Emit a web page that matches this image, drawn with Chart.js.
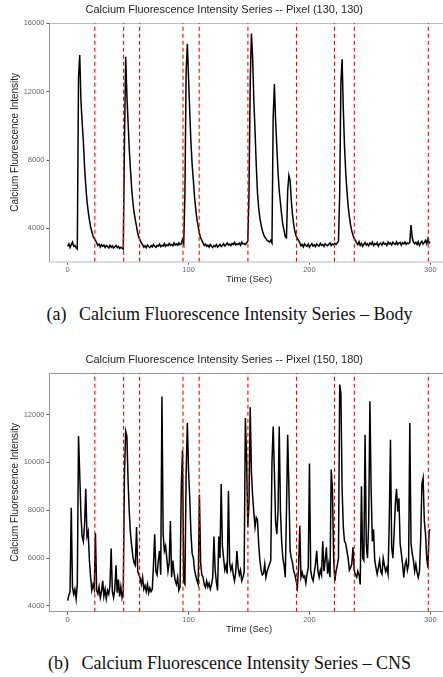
<!DOCTYPE html>
<html>
<head>
<meta charset="utf-8">
<script src="https://cdn.jsdelivr.net/npm/chart.js@4.4.1/dist/chart.umd.min.js"></script>
<style>
  html, body { margin: 0; padding: 0; background: #fff; overflow: hidden; }
  body { width: 443px; height: 677px; position: relative; }
  .panel { position: absolute; left: 0; }
  .caption {
    position: absolute; left: 0; width: 459px; text-align: center;
    font-family: "Liberation Serif", "DejaVu Serif", serif;
    font-size: 18px; line-height: 20px; color: #111; white-space: nowrap;
  }
  .caption .tag { margin-right: 8px; }
</style>
</head>
<body>
<div class="panel" style="top:0"><canvas id="body-chart" width="498" height="287"></canvas></div>
<div class="caption" style="top:304px"><span class="tag">(a) </span>Calcium Fluorescence Intensity Series – Body</div>
<div class="panel" style="top:350px"><canvas id="cns-chart" width="498" height="287"></canvas></div>
<div class="caption" style="top:653px"><span class="tag">(b) </span>Calcium Fluorescence Intensity Series – CNS</div>
<script>
/* global Chart */
Chart.defaults.font.family = '"Liberation Sans", Arial, sans-serif';
Chart.defaults.animation = false;

// one sample per second, t = 0 .. 300
const sampleStepSec = 1;
const timeTicks = [0, 100, 200, 300];
// red dashed markers (sec)
const eventTimes = [22.5, 46.3, 59.5, 95.4, 108.8, 149.1, 189.3, 220.7, 237.1, 298.3];

const bodyTicks = [4000, 8000, 12000, 16000];
const cnsTicks = [4000, 6000, 8000, 10000, 12000];

// Pixel (130, 130) - body
const bodyIntensity = [
  2950, 3100, 2880, 3050, 3200, 2950, 3000, 2870, 2800, 12800,
  14150, 11500, 10200, 9100, 7600, 6500, 5600, 5000, 4500, 4100,
  3800, 3550, 3400, 3300, 3150, 3000, 3080, 2900, 3050, 2950,
  3020, 2880, 3000, 2940, 2860, 3010, 2900, 2980, 2850, 2920,
  3000, 2870, 2950, 2820, 2900, 2840, 2780, 9000, 14050, 11800,
  10200, 8600, 7400, 6300, 5500, 4900, 4500, 4100, 3700, 3450,
  3300, 3150, 3050, 2900, 2980, 2870, 3020, 2940, 2880, 3000,
  2920, 3060, 2950, 2890, 3010, 2960, 3080, 2930, 3000, 2970,
  3110, 2950, 3040, 2990, 3120, 3000, 3060, 2980, 3150, 3020,
  3090, 3010, 3160, 3050, 3100, 3350, 3100, 6000, 13200, 14800,
  12800, 10800, 9000, 7700, 6800, 5800, 5100, 4500, 4100, 3700,
  3450, 3300, 3150, 3000, 3080, 2950, 3020, 2900, 3060, 2960,
  2880, 3000, 2930, 3050, 2900, 2980, 3070, 2940, 3000, 3100,
  2970, 3040, 3150, 3020, 3080, 2990, 3120, 3050, 3180, 3030,
  3100, 3060, 3140, 3010, 3200, 3080, 3120, 3050, 3150, 3250,
  6000, 12500, 15400, 14000, 11500, 9700, 7700, 6100, 5200, 4600,
  4200, 3900, 3650, 3500, 3400, 3300, 3250, 3200, 3300, 3150,
  10500, 12450, 10300, 8800, 7300, 6200, 5500, 4800, 4200, 3900,
  3500, 3450, 6200, 7100, 6800, 5600, 4800, 4200, 3800, 3550,
  3400, 3300, 3150, 2980, 3060, 2920, 3100, 3000, 2950, 3080,
  2900, 3020, 3110, 2960, 3040, 2930, 3090, 3000, 2970, 3120,
  3010, 3050, 2940, 3100, 3030, 2980, 3070, 3150, 3000, 3090,
  3040, 3120, 3060, 3150, 3250, 6000, 12500, 13900, 11000, 8800,
  7300, 6200, 5300, 4700, 4200, 3850, 3600, 3400, 3300, 3150,
  3050, 3220, 3000, 3120, 2950, 3080, 3180, 3020, 3100, 2980,
  3150, 3060, 3200, 3000, 3110, 3050, 3170, 2960, 3090, 3140,
  3020, 3180, 3070, 3120, 3000, 3200, 3080, 3150, 3030, 3190,
  3100, 3060, 3210, 3050, 3140, 3180, 3020, 3160, 3090, 3200,
  3060, 3150, 3110, 3180, 4200, 3450, 3200, 3100, 3180, 3050,
  3220, 3000, 3150, 3250, 3080, 3180, 3300, 3100, 3400, 3150,
  3200
];

// Pixel (150, 180) - CNS
const cnsIntensity = [
  4220, 4450, 4600, 8100, 4800, 4500, 4700, 4300, 4900, 11100,
  9500, 7800, 6900, 6700, 7400, 8900, 6900, 7100, 5900, 5200,
  4650, 4900, 4700, 7050, 4650, 4500, 4800, 4350, 4600, 5050,
  4400, 4700, 4300, 4650, 4500, 4850, 6400, 4600, 4350, 4700,
  5700, 4550, 5100, 4400, 4800, 4350, 4600, 9500, 11300, 11100,
  9200, 7900, 7000, 6500, 6050, 5800, 5700, 7300, 5450, 5300,
  5150, 4900, 5200, 4700, 4850, 4600, 4900, 4550, 4750, 4600,
  4700, 5700, 7000, 5450, 5300, 5900, 6300, 5300, 12750, 7000,
  6300, 6500, 6000, 5450, 5800, 7550, 5200, 5900, 5400, 5050,
  4900, 5200, 4650, 4800, 9000, 10500, 5000, 4900, 9500, 11650,
  9650, 8500, 7000, 6200, 6000, 5500, 5250, 5050, 4900, 8650,
  5800, 5300, 5200, 4900, 4780, 5050, 4800, 4950, 4700, 4900,
  5200, 6900, 5500, 5000, 4650, 6900, 6000, 9100, 6500, 6000,
  5500, 5700, 5350, 8800, 5800, 5500, 5700, 5300, 5050, 5400,
  6300, 5600, 5300, 5500, 5050, 5200, 5400, 11850, 10200, 7300,
  8300, 12300, 9600, 8600, 7900, 7300, 7700, 7600, 6600, 5900,
  5500, 5300, 5350, 5750, 5200, 5450, 5600, 5750, 5900, 10000,
  11500, 9600, 7500, 7000, 7950, 11500, 8000, 6700, 6000, 5700,
  5200, 8000, 11150, 8900, 6300, 6000, 5800, 5450, 5300, 5050,
  4780, 5600, 7350, 5200, 5400, 5190, 5250, 4950, 5330, 5600,
  9950, 5500, 5190, 5050, 5400, 5750, 6300, 5450, 5200, 5500,
  5300, 6700, 5450, 5900, 6450, 5350, 5750, 5200, 9700, 8900,
  6000, 5050, 5450, 5700, 6000, 13250, 12900, 8900, 7300, 6700,
  6600, 6300, 6000, 5500, 5600, 5750, 6450, 5500, 5300, 5200,
  5450, 5300, 4900, 9000, 6000, 5900, 11150, 6600, 6000, 7500,
  12550, 8900, 6700, 7200, 5900, 5600, 5330, 5600, 5900, 5450,
  5330, 6000, 5700, 5450, 5600, 5330, 7500, 10950, 6450, 6000,
  7000, 8250, 8900, 7950, 8500, 6600, 6200, 5750, 5190, 5700,
  5900, 5500, 5750, 11650, 6600, 6200, 5900, 5450, 5750, 5400,
  5190, 5450, 6800, 9100, 9350, 7550, 7000, 6000, 5600, 7150,
  7200
];

function plainLabel(value) {
  return String(value);
}

function makeChart(canvasId, titleText, values, yTicks, yMin, yMax, frameColor, baseColor, baseWidth) {
  const datasets = eventTimes.map(function(t) {
    return {
      data: [{ x: t, y: yMin }, { x: t, y: yMax }],
      borderColor: '#ff0000',
      borderWidth: 1.1,
      borderDash: [4, 3],
      pointRadius: 0,
      order: 1,
    };
  });
  datasets.push({
    data: values.map(function(v, i) { return { x: i * sampleStepSec, y: v }; }),
    borderColor: '#000',
    borderWidth: 1.5,
    pointRadius: 0,
    tension: 0,
    order: 2,
  });

  return new Chart(document.getElementById(canvasId), {
    type: 'line',
    data: { datasets: datasets },
    options: {
      responsive: false,
      animation: false,
      layout: { padding: { left: 0, right: 49.5, top: 0, bottom: 0 } },
      plugins: {
        legend: { display: false },
        tooltip: { enabled: false },
        title: {
          display: true,
          text: titleText,
          color: '#222',
          font: { size: 11, weight: 'normal' },
          padding: { top: 3.4, bottom: 6.4 },
        },
      },
      scales: {
        x: {
          type: 'linear',
          min: -15,
          max: 315,
          afterBuildTicks: function(s) { s.ticks = timeTicks.map(function(v) { return { value: v }; }); },
          afterFit: function(s) { s.height = 25.3; },
          grid: { drawOnChartArea: false, tickLength: 3, color: '#555' },
          border: { color: baseColor, width: baseWidth },
          ticks: { color: '#666', font: { size: 7.5 }, padding: 1, maxRotation: 0, autoSkip: false, callback: plainLabel },
          title: {
            display: true,
            text: 'Time (Sec)',
            color: '#222',
            font: { size: 9.5 },
            padding: { top: 0, bottom: 2.3 },
          },
        },
        xTop: {
          type: 'linear',
          position: 'top',
          min: -15,
          max: 315,
          ticks: { display: false },
          grid: { display: false },
          border: { color: frameColor, width: 1 },
          afterFit: function(s) { s.height = 0; },
        },
        y: {
          min: yMin,
          max: yMax,
          afterBuildTicks: function(s) { s.ticks = yTicks.map(function(v) { return { value: v }; }); },
          afterFit: function(s) { s.width = 49.5; },
          grid: { drawOnChartArea: false, tickLength: 3, color: '#555' },
          border: { color: '#999', width: 1 },
          ticks: { color: '#666', font: { size: 7.5 }, padding: 2, callback: plainLabel },
          title: {
            display: true,
            text: 'Calcium Fluorescence Intensity',
            color: '#222',
            font: { size: 10 },
            padding: { top: 9, bottom: 0 },
          },
        },
      },
    },
  });
}

makeChart('body-chart', 'Calcium Fluorescence Intensity Series -- Pixel (130, 130)',
  bodyIntensity, bodyTicks, 2050, 16020, '#bbb', '#dcdcdc', 2);
makeChart('cns-chart', 'Calcium Fluorescence Intensity Series -- Pixel (150, 180)',
  cnsIntensity, cnsTicks, 3760, 13735, '#999', '#999', 1);
</script>
</body>
</html>
